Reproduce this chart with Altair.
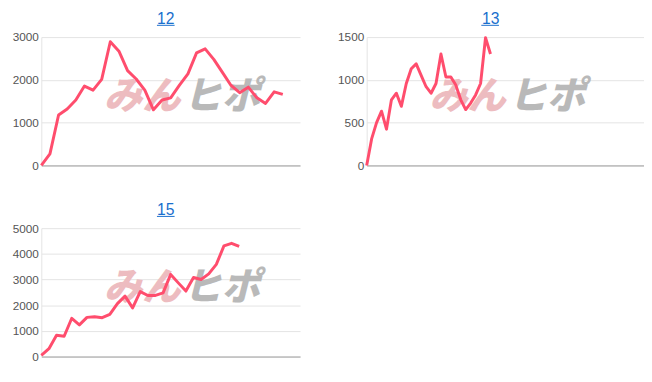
import altair as alt
import pandas as pd

# ---- data ----
titles = ["12", "13", "15"]

values_12 = [0, 270, 1180, 1320, 1530, 1855, 1760, 2010, 2890, 2670, 2215, 2020, 1760, 1300,
             1530, 1580, 1870, 2140, 2630, 2725, 2480, 2175, 1870, 1700, 1830, 1580, 1450, 1720, 1660]
values_13 = [0, 310, 500, 634, 424, 767, 844, 691, 958, 1130, 1187, 1053, 920, 844, 958, 1302,
             1034, 1034, 939, 767, 653, 729, 824, 958, 1492, 1302]
values_15 = [50, 305, 827, 790, 1490, 1235, 1527, 1552, 1514, 1640, 2060, 2353, 1895, 2530, 2380,
             2380, 2480, 3200, 2870, 2550, 3080, 3000, 3220, 3590, 4310, 4410, 4290]

x_max = [30, 56, 34]
y_max = [3000, 1500, 5000]
y_step = [1000, 500, 1000]
widths = [264, 283, 264]

watermark_text = ["みん", "ヒポ"]
watermark_colors = ["#edbcc0", "#b9b9b9"]

LINE = "#ff4d6d"
BLUE = "#1a6fcd"
H = 131


def panel(i, values):
    df = pd.DataFrame({"idx": list(range(len(values))), "v": values})
    w = widths[i]
    ymax = y_max[i]
    wm_layers = []
    for t, c, xc in zip(watermark_text, watermark_colors, [103, 184]):
        wm_layers.append(
            alt.Chart(pd.DataFrame({"t": [t]}))
            .mark_text(font="Noto Sans CJK JP", fontSize=39, fontWeight=900, fontStyle="italic",
                       color=c, align="center", baseline="middle")
            .encode(x=alt.value(xc), y=alt.value(61), text="t:N")
        )
    line = alt.Chart(df).mark_line(color=LINE, strokeWidth=3, strokeJoin="round").encode(
        x=alt.X("idx:Q", scale=alt.Scale(domain=[0, x_max[i]], nice=False, zero=True),
                axis=alt.Axis(labels=False, ticks=False, grid=False, title=None,
                              domainColor="#9e9e9e", domainWidth=1)),
        y=alt.Y("v:Q", scale=alt.Scale(domain=[0, ymax], nice=False),
                axis=alt.Axis(values=list(range(0, ymax + 1, y_step[i])), title=None, format="d",
                              ticks=False, grid=True, gridColor="#e3e3e3",
                              domainColor="#e3e3e3", labelColor="#555555",
                              labelFont="Liberation Sans", labelFontSize=12, labelPadding=3)),
    )
    ucenter = [127, 126, 127][i]
    underline = alt.Chart(pd.DataFrame({"t": [titles[i]]})).mark_rule(color=BLUE, strokeWidth=1).encode(
        x=alt.value(ucenter - 9), x2=alt.value(ucenter + 9), y=alt.value(-12)
    )
    return alt.layer(*wm_layers, line, underline).properties(
        width=w, height=H,
        title=alt.TitleParams(titles[i], fontSize=16, color=BLUE, font="Liberation Sans",
                              fontWeight="normal", anchor="middle",
                              dx=[-5, -15, -5][i], offset=-2.5),
    )


chart = alt.concat(
    panel(0, values_12), panel(1, values_13), panel(2, values_15),
    columns=2, spacing={"row": 32, "column": 38},
).properties(
    padding={"left": 4, "top": 0, "right": 0, "bottom": 2}
).configure_view(stroke=None)

chart.save("out.html", embed_options={"renderer": "svg", "actions": False})
